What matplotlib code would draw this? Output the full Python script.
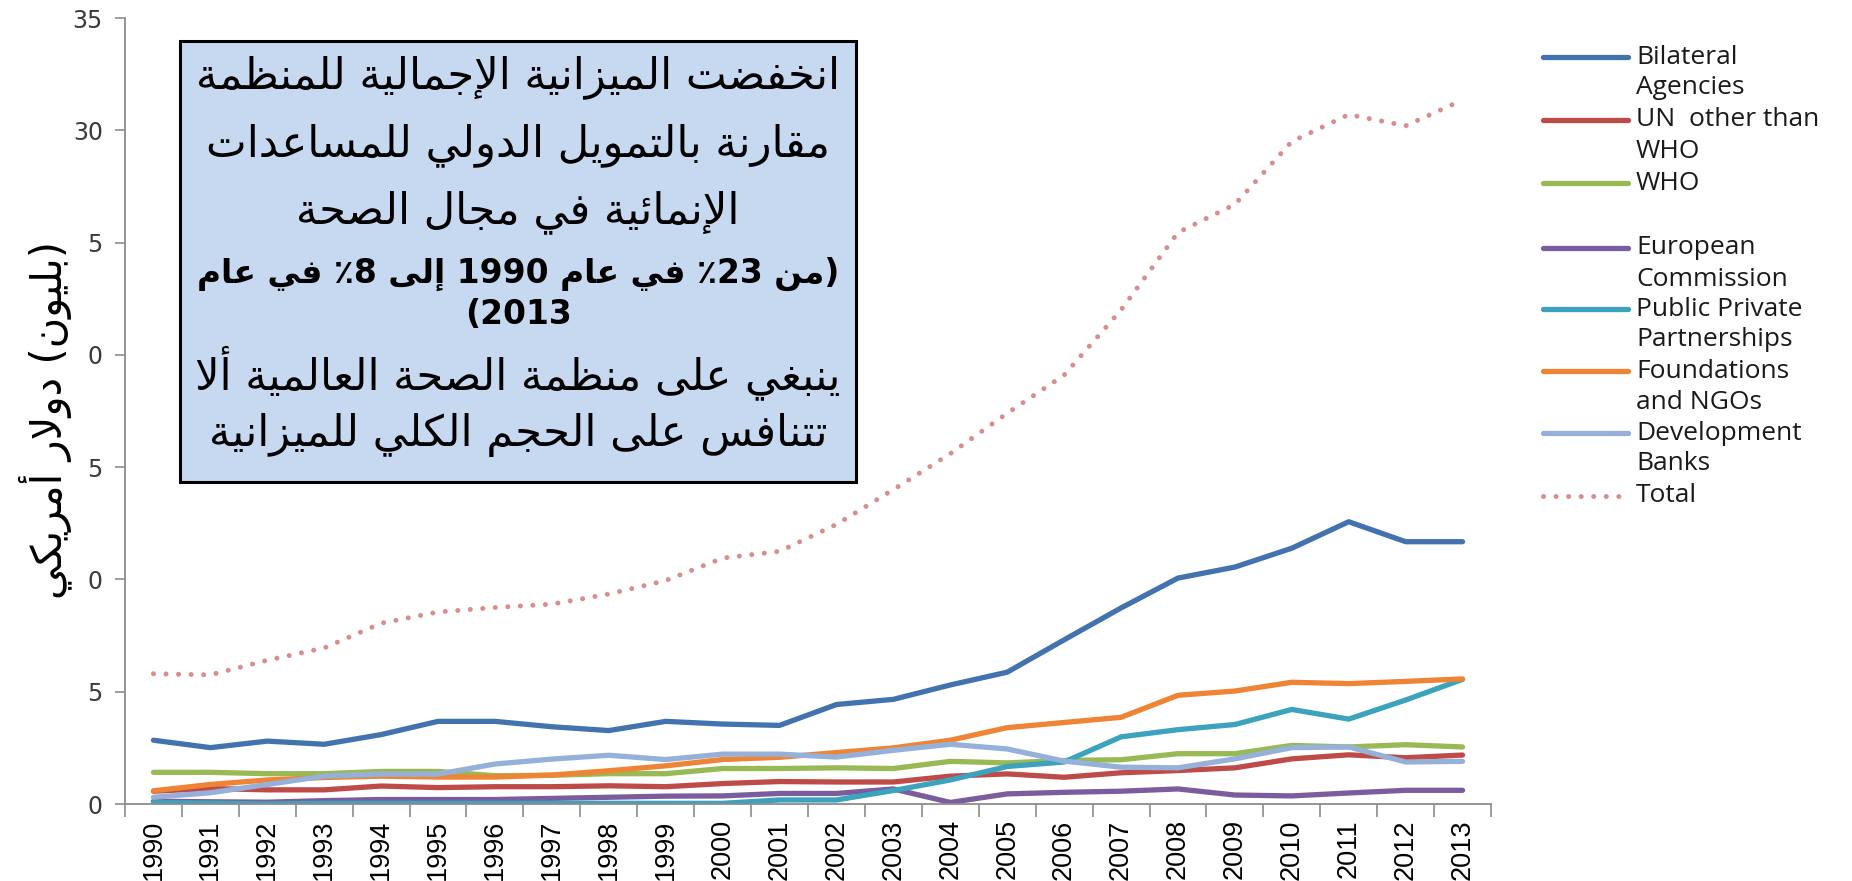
import matplotlib
matplotlib.use("Agg")
import matplotlib.pyplot as plt
from matplotlib.lines import Line2D
from matplotlib.patches import Rectangle
import numpy as np

# ---------------- data ----------------
years = [str(y) for y in range(1990, 2014)]
ytick_values = [0, 5, 10, 15, 20, 25, 30, 35]
ytick_labels = ["0", "5", "0", "5", "0", "5", "30", "35"]

bilateral = [2.84, 2.51, 2.80, 2.66, 3.09, 3.68, 3.68, 3.44, 3.27, 3.68, 3.56, 3.50,
             4.43, 4.66, 5.30, 5.87, 7.31, 8.73, 10.06, 10.55, 11.39, 12.57, 11.68, 11.68]
un_other = [0.57, 0.69, 0.63, 0.63, 0.80, 0.73, 0.77, 0.77, 0.81, 0.77, 0.91, 1.00,
            0.98, 0.98, 1.24, 1.34, 1.19, 1.39, 1.49, 1.61, 2.01, 2.19, 2.06, 2.18]
who = [1.41, 1.41, 1.35, 1.35, 1.45, 1.45, 1.26, 1.28, 1.35, 1.35, 1.58, 1.58,
       1.61, 1.58, 1.90, 1.83, 1.94, 1.97, 2.24, 2.24, 2.61, 2.54, 2.64, 2.54]
european = [0.12, 0.10, 0.08, 0.15, 0.20, 0.20, 0.20, 0.25, 0.30, 0.35, 0.36, 0.47,
            0.47, 0.67, 0.07, 0.45, 0.52, 0.57, 0.67, 0.40, 0.36, 0.49, 0.61, 0.61]
ppp = [0.06, 0.04, 0.00, 0.03, 0.03, 0.03, 0.03, 0.03, 0.03, 0.03, 0.03, 0.18,
       0.18, 0.60, 1.07, 1.67, 1.87, 2.99, 3.31, 3.54, 4.21, 3.78, 4.63, 5.55]
foundations = [0.59, 0.87, 1.07, 1.18, 1.24, 1.20, 1.20, 1.29, 1.48, 1.70, 1.98, 2.08,
               2.29, 2.50, 2.84, 3.40, 3.63, 3.86, 4.84, 5.03, 5.42, 5.36, 5.46, 5.57]
dev_banks = [0.30, 0.50, 0.87, 1.24, 1.33, 1.33, 1.78, 2.00, 2.17, 1.98, 2.22, 2.22,
             2.09, 2.39, 2.66, 2.45, 1.91, 1.64, 1.61, 2.01, 2.51, 2.54, 1.87, 1.90]
total = [5.80, 5.75, 6.40, 6.95, 8.05, 8.55, 8.75, 8.90, 9.35, 9.95, 10.95, 11.25,
         12.45, 14.00, 15.60, 17.40, 19.10, 22.00, 25.45, 26.70, 29.50, 30.70, 30.20, 31.35]

series_names = ["Bilateral\nAgencies", "UN  other than\nWHO", "WHO\n",
                "European\nCommission", "Public Private\nPartnerships",
                "Foundations\nand NGOs", "Development\nBanks", "Total"]
series_values = [bilateral, un_other, who, european, ppp, foundations, dev_banks, total]
series_colors = ["#4272B0", "#BE4B48", "#98B954", "#7B5C9E", "#3BA3BE",
                 "#EE8434", "#96B1D9", "#D98E8E"]

ylabel_text = "(بليون) دولار أمريكي"
box_lines = [
    ("انخفضت الميزانية الإجمالية للمنظمة", False),
    ("مقارنة بالتمويل الدولي للمساعدات", False),
    ("الإنمائية في مجال الصحة", False),
    ("(من 23٪ في عام 1990 إلى 8٪ في عام", True),
    ("2013)", True),
    ("ينبغي على منظمة الصحة العالمية ألا", False),
    ("تتنافس على الحجم الكلي للميزانية", False),
]

# ---------------- minimal Arabic shaping + visual ordering ----------------
AR = {
    '\u0621': (0xFE80, 'U'), '\u0622': (0xFE81, 'R'), '\u0623': (0xFE83, 'R'),
    '\u0624': (0xFE85, 'R'), '\u0625': (0xFE87, 'R'), '\u0626': (0xFE89, 'D'),
    '\u0627': (0xFE8D, 'R'), '\u0628': (0xFE8F, 'D'), '\u0629': (0xFE93, 'R'),
    '\u062A': (0xFE95, 'D'), '\u062B': (0xFE99, 'D'), '\u062C': (0xFE9D, 'D'),
    '\u062D': (0xFEA1, 'D'), '\u062E': (0xFEA5, 'D'), '\u062F': (0xFEA9, 'R'),
    '\u0630': (0xFEAB, 'R'), '\u0631': (0xFEAD, 'R'), '\u0632': (0xFEAF, 'R'),
    '\u0633': (0xFEB1, 'D'), '\u0634': (0xFEB5, 'D'), '\u0635': (0xFEB9, 'D'),
    '\u0636': (0xFEBD, 'D'), '\u0637': (0xFEC1, 'D'), '\u0638': (0xFEC5, 'D'),
    '\u0639': (0xFEC9, 'D'), '\u063A': (0xFECD, 'D'), '\u0641': (0xFED1, 'D'),
    '\u0642': (0xFED5, 'D'), '\u0643': (0xFED9, 'D'), '\u0644': (0xFEDD, 'D'),
    '\u0645': (0xFEE1, 'D'), '\u0646': (0xFEE5, 'D'), '\u0647': (0xFEE9, 'D'),
    '\u0648': (0xFEED, 'R'), '\u0649': (0xFEEF, 'R'), '\u064A': (0xFEF1, 'D'),
}
LAMALEF = {'\u0622': 0xFEF5, '\u0623': 0xFEF7, '\u0625': 0xFEF9, '\u0627': 0xFEFB}


def shape(s):
    out = []
    prev_d = False
    i = 0
    while i < len(s):
        c = s[i]
        if c == '\u0644' and i + 1 < len(s) and s[i + 1] in LAMALEF:
            out.append(chr(LAMALEF[s[i + 1]] + (1 if prev_d else 0)))
            prev_d = False
            i += 2
            continue
        if c in AR:
            base, typ = AR[c]
            nxt = s[i + 1] if i + 1 < len(s) else ''
            nxt_ok = nxt in AR and AR[nxt][1] != 'U'
            if typ == 'U':
                out.append(chr(base))
                prev_d = False
            else:
                jn = typ == 'D' and nxt_ok
                if prev_d and jn:
                    g = base + 3
                elif prev_d:
                    g = base + 1
                elif jn:
                    g = base + 2
                else:
                    g = base
                out.append(chr(g))
                prev_d = typ == 'D'
        else:
            out.append(c)
            prev_d = False
        i += 1
    return ''.join(out)


def visual(s):
    sh = shape(s)
    runs = []
    for ch in sh:
        ltr = ch.isascii() and ch.isdigit()
        if runs and runs[-1][0] == ltr:
            runs[-1][1].append(ch)
        else:
            runs.append([ltr, [ch]])
    mirror = {'(': ')', ')': '('}
    parts = []
    for ltr, chars in reversed(runs):
        if ltr:
            parts.append(''.join(chars))
        else:
            parts.append(''.join(mirror.get(c, c) for c in reversed(chars)))
    return ''.join(parts)


# ---------------- figure ----------------
W, H = 1852, 881
fig = plt.figure(figsize=(W / 100, H / 100), dpi=100)
fig.patch.set_facecolor("white")


def fx(px):
    return px / W


def fy(py):
    return 1 - py / H


DOT = (0, (0.01, 2.5))

ax = fig.add_axes([fx(125), fy(804), fx(1491) - fx(125), fy(18) - fy(804)])
x = np.arange(len(years))

for name, vals, col in zip(series_names, series_values, series_colors):
    if name == "Total":
        ax.plot(x, vals, color=col, lw=3.6, linestyle=DOT,
                dash_capstyle="round", zorder=3)
    else:
        ax.plot(x, vals, color=col, lw=3.8, solid_capstyle="round",
                solid_joinstyle="round", zorder=2)

ax.set_xlim(-0.5, len(years) - 0.5)
ax.set_ylim(0, 35)
ax.set_yticks(ytick_values)
ax.set_yticklabels(ytick_labels, fontsize=17, color="#3a3a3a", family="DejaVu Sans")
ax.set_xticks(x)
ax.set_xticklabels(years, rotation=90, fontsize=19.5, family="Liberation Sans", color="black")
ax.set_xticks(np.arange(-0.5, len(years), 1.0), minor=True)
ax.tick_params(axis="x", which="major", length=0, pad=11)
ax.tick_params(axis="x", which="minor", length=9, width=1.2, color="#8C8C8C", direction="out")
ax.tick_params(axis="y", length=7, width=1.2, color="#8C8C8C", pad=9)
for sp in ("top", "right"):
    ax.spines[sp].set_visible(False)
for sp in ("left", "bottom"):
    ax.spines[sp].set_color("#8C8C8C")
    ax.spines[sp].set_linewidth(1.3)

# y label (Arabic)
fig.text(fx(45), fy(420), visual(ylabel_text), rotation=90, fontsize=30,
         ha="center", va="center", family="DejaVu Sans", color="black")

# text box
fig.add_artist(Rectangle((fx(180), fy(482)), fx(856) - fx(180), fy(41) - fy(482),
                         transform=fig.transFigure, facecolor="#C6D9F1",
                         edgecolor="black", lw=2.2, zorder=5))
renderer = fig.canvas.get_renderer()
line_y = [77, 145, 212, 274, 314, 373, 435]
texts = []
for (txt, bold), yy in zip(box_lines, line_y):
    t = fig.text(fx(518), fy(yy), visual(txt), fontsize=20, ha="center", va="center",
                 family="DejaVu Sans", fontweight="bold" if bold else "normal",
                 color="black", zorder=6)
    texts.append((t, bold))
w_reg = texts[0][0].get_window_extent(renderer).width
w_bold = texts[3][0].get_window_extent(renderer).width
size_reg = 20 * 643 / w_reg
size_bold = 20 * 640 / w_bold
for t, bold in texts:
    t.set_fontsize(size_bold if bold else size_reg)

# legend (manual)
leg_y = [57, 120, 183, 248, 309, 371, 433, 496]
for name, col, yy in zip(series_names, series_colors, leg_y):
    if name == "Total":
        ln = Line2D([fx(1543), fx(1628)], [fy(yy), fy(yy)], transform=fig.transFigure,
                    color=col, lw=3.6, linestyle=DOT, dash_capstyle="round")
    else:
        ln = Line2D([fx(1543), fx(1628)], [fy(yy), fy(yy)], transform=fig.transFigure,
                    color=col, lw=3.8, solid_capstyle="round")
    fig.add_artist(ln)
    for k, part in enumerate(name.split("\n")):
        if part:
            fig.text(fx(1636), fy(yy + 31 * k), part, fontsize=19, family="Open Sans",
                     ha="left", va="center", color="#1a1a1a")

fig.savefig("out.png", dpi=100, facecolor="white")
